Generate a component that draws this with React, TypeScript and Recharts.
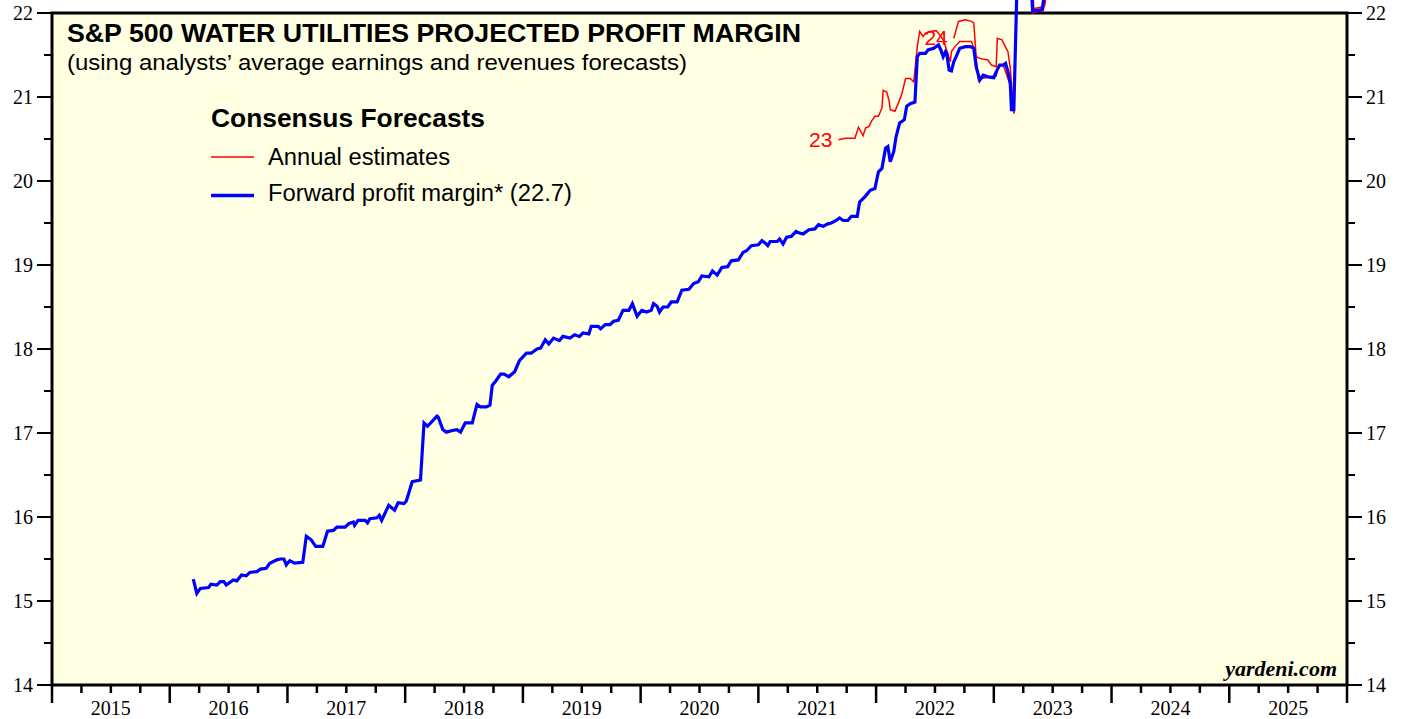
import React from 'react';
import { LineChart, Line, XAxis, YAxis, ReferenceArea, Legend } from 'recharts';

// forward profit margin (weekly, decimal years)
const fwdDates = [
  2016.2, 2016.23, 2016.26, 2016.33, 2016.35, 2016.4, 2016.43, 2016.46, 2016.48, 2016.54,
  2016.57, 2016.61, 2016.65, 2016.68, 2016.74, 2016.77, 2016.82, 2016.85, 2016.91, 2016.94,
  2016.97, 2016.99, 2017.02, 2017.06, 2017.13, 2017.16, 2017.2, 2017.24, 2017.3, 2017.34,
  2017.39, 2017.42, 2017.49, 2017.52, 2017.56, 2017.57, 2017.6, 2017.66, 2017.68, 2017.7,
  2017.76, 2017.78, 2017.8, 2017.86, 2017.91, 2017.94, 2017.99, 2018.01, 2018.06, 2018.13,
  2018.16, 2018.19, 2018.27, 2018.28, 2018.32, 2018.35, 2018.4, 2018.44, 2018.47, 2018.51,
  2018.57, 2018.61, 2018.64, 2018.69, 2018.72, 2018.74, 2018.77, 2018.81, 2018.84, 2018.88,
  2018.93, 2018.97, 2019.03, 2019.07, 2019.12, 2019.15, 2019.19, 2019.22, 2019.26, 2019.31,
  2019.34, 2019.4, 2019.44, 2019.48, 2019.51, 2019.56, 2019.58, 2019.64, 2019.66, 2019.7,
  2019.74, 2019.77, 2019.81, 2019.85, 2019.9, 2019.93, 2019.97, 2020.01, 2020.05, 2020.09,
  2020.11, 2020.14, 2020.16, 2020.19, 2020.23, 2020.26, 2020.31, 2020.35, 2020.41, 2020.45,
  2020.49, 2020.52, 2020.58, 2020.61, 2020.65, 2020.69, 2020.74, 2020.77, 2020.83, 2020.87,
  2020.9, 2020.94, 2021.0, 2021.03, 2021.06, 2021.08, 2021.1, 2021.16, 2021.18, 2021.21,
  2021.24, 2021.28, 2021.32, 2021.35, 2021.38, 2021.43, 2021.48, 2021.51, 2021.55, 2021.59,
  2021.62, 2021.66, 2021.69, 2021.72, 2021.76, 2021.79, 2021.84, 2021.86, 2021.91, 2021.95,
  2021.99, 2022.02, 2022.05, 2022.08, 2022.1, 2022.12, 2022.15, 2022.17, 2022.2, 2022.24,
  2022.26, 2022.29, 2022.33, 2022.35, 2022.37, 2022.42, 2022.44, 2022.49, 2022.53, 2022.55,
  2022.57, 2022.59, 2022.6, 2022.62, 2022.64, 2022.66, 2022.68, 2022.71, 2022.76, 2022.8,
  2022.83, 2022.85, 2022.88, 2022.91, 2022.95, 2023.0, 2023.02, 2023.05, 2023.08, 2023.1,
  2023.12, 2023.14, 2023.15, 2023.17, 2023.2, 2023.31, 2023.33, 2023.41, 2023.45,
];
const fwdMargin = [
  15.26, 15.09, 15.15, 15.16, 15.2, 15.19, 15.23, 15.23, 15.19, 15.25,
  15.24, 15.31, 15.3, 15.34, 15.35, 15.38, 15.39, 15.45, 15.49, 15.5,
  15.5, 15.43, 15.48, 15.45, 15.46, 15.77, 15.73, 15.65, 15.65, 15.83,
  15.84, 15.88, 15.88, 15.92, 15.94, 15.9, 15.96, 15.96, 15.93, 15.98,
  15.99, 16.02, 15.96, 16.14, 16.08, 16.17, 16.16, 16.19, 16.42, 16.44,
  17.12, 17.08, 17.2, 17.19, 17.04, 17.01, 17.03, 17.04, 17.01, 17.12,
  17.12, 17.34, 17.31, 17.31, 17.33, 17.57, 17.62, 17.7, 17.7, 17.67,
  17.73, 17.86, 17.95, 17.95, 18.0, 18.01, 18.11, 18.06, 18.13, 18.1,
  18.15, 18.13, 18.17, 18.15, 18.19, 18.18, 18.27, 18.27, 18.24, 18.29,
  18.29, 18.33, 18.34, 18.46, 18.46, 18.54, 18.39, 18.46, 18.44, 18.46,
  18.54, 18.51, 18.44, 18.5, 18.5, 18.56, 18.56, 18.7, 18.71, 18.78,
  18.8, 18.87, 18.86, 18.93, 18.88, 18.97, 18.98, 19.05, 19.06, 19.15,
  19.17, 19.23, 19.24, 19.29, 19.26, 19.23, 19.28, 19.28, 19.31, 19.25,
  19.33, 19.34, 19.4, 19.38, 19.37, 19.42, 19.43, 19.48, 19.46, 19.49,
  19.5, 19.53, 19.56, 19.53, 19.53, 19.58, 19.58, 19.75, 19.82, 19.89,
  19.91, 20.11, 20.15, 20.39, 20.41, 20.23, 20.35, 20.53, 20.69, 20.73,
  20.89, 20.92, 20.94, 21.48, 21.52, 21.52, 21.56, 21.58, 21.62, 21.56,
  21.48, 21.54, 21.52, 21.32, 21.31, 21.42, 21.48, 21.58, 21.6, 21.6,
  21.58, 21.36, 21.2, 21.26, 21.24, 21.23, 21.3, 21.38, 21.38, 21.4,
  21.3, 21.16, 20.85, 20.85, 22.5, 22.5, 22.02, 22.04, 22.4,
];

// annual estimates for 2023
const est23Dates = [
  2021.68, 2021.74, 2021.82, 2021.85, 2021.89, 2021.91, 2021.94, 2021.96, 2021.99, 2022.02,
  2022.05, 2022.06, 2022.09, 2022.11, 2022.12, 2022.16, 2022.19, 2022.22, 2022.25, 2022.29,
  2022.32, 2022.35, 2022.37, 2022.4, 2022.42, 2022.46, 2022.51, 2022.54, 2022.57, 2022.59,
  2022.63, 2022.64, 2022.67, 2022.71, 2022.81, 2022.83, 2022.85, 2022.87, 2022.9, 2022.97,
  2023.02, 2023.04, 2023.08, 2023.11, 2023.14, 2023.17, 2023.2, 2023.31, 2023.33, 2023.42,
  2023.46,
];
const est23 = [
  20.49, 20.51, 20.51, 20.64, 20.54, 20.63, 20.65, 20.71, 20.77, 20.77,
  20.87, 21.08, 21.06, 20.96, 20.85, 20.83, 20.93, 21.04, 21.22, 21.22,
  21.18, 21.6, 21.78, 21.72, 21.76, 21.78, 21.79, 21.74, 21.68, 21.6,
  21.42, 21.54, 21.6, 21.66, 21.66, 21.58, 21.46, 21.2, 21.22, 21.24,
  21.25, 21.38, 21.38, 21.26, 21.14, 20.81, 22.5, 22.5, 22.0, 22.03,
  22.3,
];

// annual estimates for 2024
const est24Dates = [
  2022.66, 2022.7, 2022.76, 2022.81, 2022.83, 2022.85, 2022.88, 2022.95, 2022.98, 2023.02,
  2023.03, 2023.07, 2023.09, 2023.12, 2023.14, 2023.17, 2023.2, 2023.32, 2023.34, 2023.43,
  2023.47,
];
const est24 = [
  21.7, 21.9, 21.92, 21.9, 21.88, 21.48, 21.46, 21.44, 21.38, 21.36,
  21.7, 21.68, 21.62, 21.54, 21.34, 20.8, 22.6, 22.6, 22.05, 22.08,
  22.4,
];

const xTicks = Array.from({ length: 45 }, (_, i) => 2015 + i * 0.25);
const yTicks = Array.from({ length: 17 }, (_, i) => 14 + i * 0.5);

const fwdData = fwdDates.map((t, i) => ({ t, v: fwdMargin[i] }));
const est23Data = est23Dates.map((t, i) => ({ t, v: est23[i] }));
const est24Data = est24Dates.map((t, i) => ({ t, v: est24[i] }));

const SANS = "'Liberation Sans', Arial, sans-serif";
const SERIF = "'Liberation Serif', 'Times New Roman', serif";
const BG = '#FFFFE4';

const XTick = ({ x, y, payload }: any) => {
  const v = payload.value;
  const isYear = Math.abs(v - Math.round(v)) < 1e-6;
  const isMid = Math.abs(v - Math.floor(v) - 0.5) < 1e-6;
  return (
    <g>
      <line x1={x} y1={y} x2={x} y2={y + (isYear ? 18 : 8)} stroke="#000" strokeWidth={2.5} />
      {isMid && (
        <text x={x} y={y + 30} textAnchor="middle" fontFamily={SERIF} fontSize={20} fill="#000">
          {Math.floor(v)}
        </text>
      )}
    </g>
  );
};

const YTick = ({ x, y, payload, side }: any) => {
  const v = payload.value;
  const major = Math.abs(v - Math.round(v)) < 1e-6;
  const dir = side === 'left' ? -1 : 1;
  const len = major ? 15 : 8;
  return (
    <g>
      <line x1={x} y1={y} x2={x + dir * len} y2={y} stroke="#000" strokeWidth={2} />
      {major && (
        <text
          x={x + dir * 19}
          y={y}
          dy={7}
          textAnchor={side === 'left' ? 'end' : 'start'}
          fontFamily={SERIF}
          fontSize={20}
          fill="#000"
        >
          {v}
        </text>
      )}
    </g>
  );
};

const yearLabel = (txt: string) => (props: any) => {
  if (props.index !== 0) return null;
  return (
    <text
      x={props.x - 6}
      y={props.y}
      dy={7}
      textAnchor="end"
      fontFamily={SANS}
      fontSize={21}
      fill="#FF0000"
    >
      {txt}
    </text>
  );
};

const LEGEND_WIDTHS: Record<string, number> = {
  'Annual estimates': 182,
  'Forward profit margin* (22.7)': 304,
};

const LegendBox = ({ payload }: any) => {
  const items = (payload || []).filter((e: any) => e.type !== 'none' && LEGEND_WIDTHS[e.value]);
  return (
    <svg width={420} height={110}>
      <text
        x={0}
        y={28}
        fontFamily={SANS}
        fontSize={25}
        fontWeight="bold"
        fill="#000"
        textLength={274}
        lengthAdjust="spacingAndGlyphs"
      >
        Consensus Forecasts
      </text>
      {items.map((entry: any, i: number) => (
        <g key={`legend-${i}`}>
          <line
            x1={0}
            x2={43}
            y1={58 + i * 38.5}
            y2={58 + i * 38.5}
            stroke={entry.color}
            strokeWidth={i === 0 ? 1.5 : 3.5}
          />
          <text
            x={57}
            y={66 + i * 36}
            fontFamily={SANS}
            fontSize={23}
            fill="#000"
            textLength={LEGEND_WIDTHS[entry.value]}
            lengthAdjust="spacingAndGlyphs"
          >
            {entry.value}
          </text>
        </g>
      ))}
    </svg>
  );
};

export default function App() {
  return (
    <div style={{ position: 'absolute', left: 0, top: 0, width: 1407, height: 719, background: '#fff' }}>
      <LineChart width={1407} height={719} margin={{ top: 0, right: 0, bottom: 0, left: 0 }}>
        <XAxis
          dataKey="t"
          type="number"
          domain={[2015, 2026]}
          ticks={xTicks}
          interval={0}
          height={34}
          axisLine={false}
          tickLine={false}
          tickSize={0}
          tickMargin={0}
          tick={<XTick />}
          allowDataOverflow
        />
        <YAxis
          yAxisId="left"
          orientation="left"
          type="number"
          domain={[14, 22 + 13 / 84]}
          ticks={yTicks}
          interval={0}
          width={52}
          axisLine={false}
          tickLine={false}
          tickSize={0}
          tickMargin={0}
          tick={<YTick side="left" />}
          allowDataOverflow
        />
        <YAxis
          yAxisId="right"
          orientation="right"
          type="number"
          domain={[14, 22 + 13 / 84]}
          ticks={yTicks}
          interval={0}
          width={60}
          axisLine={false}
          tickLine={false}
          tickSize={0}
          tickMargin={0}
          tick={<YTick side="right" />}
          allowDataOverflow
        />
        <ReferenceArea
          yAxisId="left"
          x1={2015}
          x2={2026}
          y1={14}
          y2={22}
          fill={BG}
          fillOpacity={1}
          stroke="#000"
          strokeWidth={3}
        />
        <Line
          yAxisId="left"
          data={est23Data}
          dataKey="v"
          name="Annual estimates"
          stroke="#FF0000"
          strokeWidth={1.5}
          dot={false}
          isAnimationActive={false}
          label={yearLabel('23')}
        />
        <Line
          yAxisId="left"
          data={est24Data}
          dataKey="v"
          name="Annual estimates 2024"
          legendType="none"
          stroke="#FF0000"
          strokeWidth={1.5}
          dot={false}
          isAnimationActive={false}
          label={yearLabel('24')}
        />
        <Line
          yAxisId="left"
          data={fwdData}
          dataKey="v"
          name="Forward profit margin* (22.7)"
          stroke="#0000FF"
          strokeWidth={3.2}
          dot={false}
          isAnimationActive={false}
        />
        <Legend
          verticalAlign="middle"
          align="center"
          content={<LegendBox />}
          wrapperStyle={{ position: 'absolute', left: 211, top: 99, width: 420, height: 110 }}
        />
      </LineChart>
      <svg
        width={1407}
        height={719}
        style={{ position: 'absolute', left: 0, top: 0, pointerEvents: 'none' }}
      >
        <text
          x={67}
          y={42}
          fontFamily={SANS}
          fontSize={25}
          fontWeight="bold"
          fill="#000"
          textLength={734}
          lengthAdjust="spacingAndGlyphs"
        >
          S&amp;P 500 WATER UTILITIES PROJECTED PROFIT MARGIN
        </text>
        <text
          x={67}
          y={70}
          fontFamily={SANS}
          fontSize={22}
          fill="#000"
          textLength={620}
          lengthAdjust="spacingAndGlyphs"
        >
          (using analysts’ average earnings and revenues forecasts)
        </text>
        <text
          x={1337}
          y={676}
          textAnchor="end"
          fontFamily={SERIF}
          fontSize={22}
          fontWeight="bold"
          fontStyle="italic"
          fill="#000"
        >
          yardeni.com
        </text>
      </svg>
    </div>
  );
}
